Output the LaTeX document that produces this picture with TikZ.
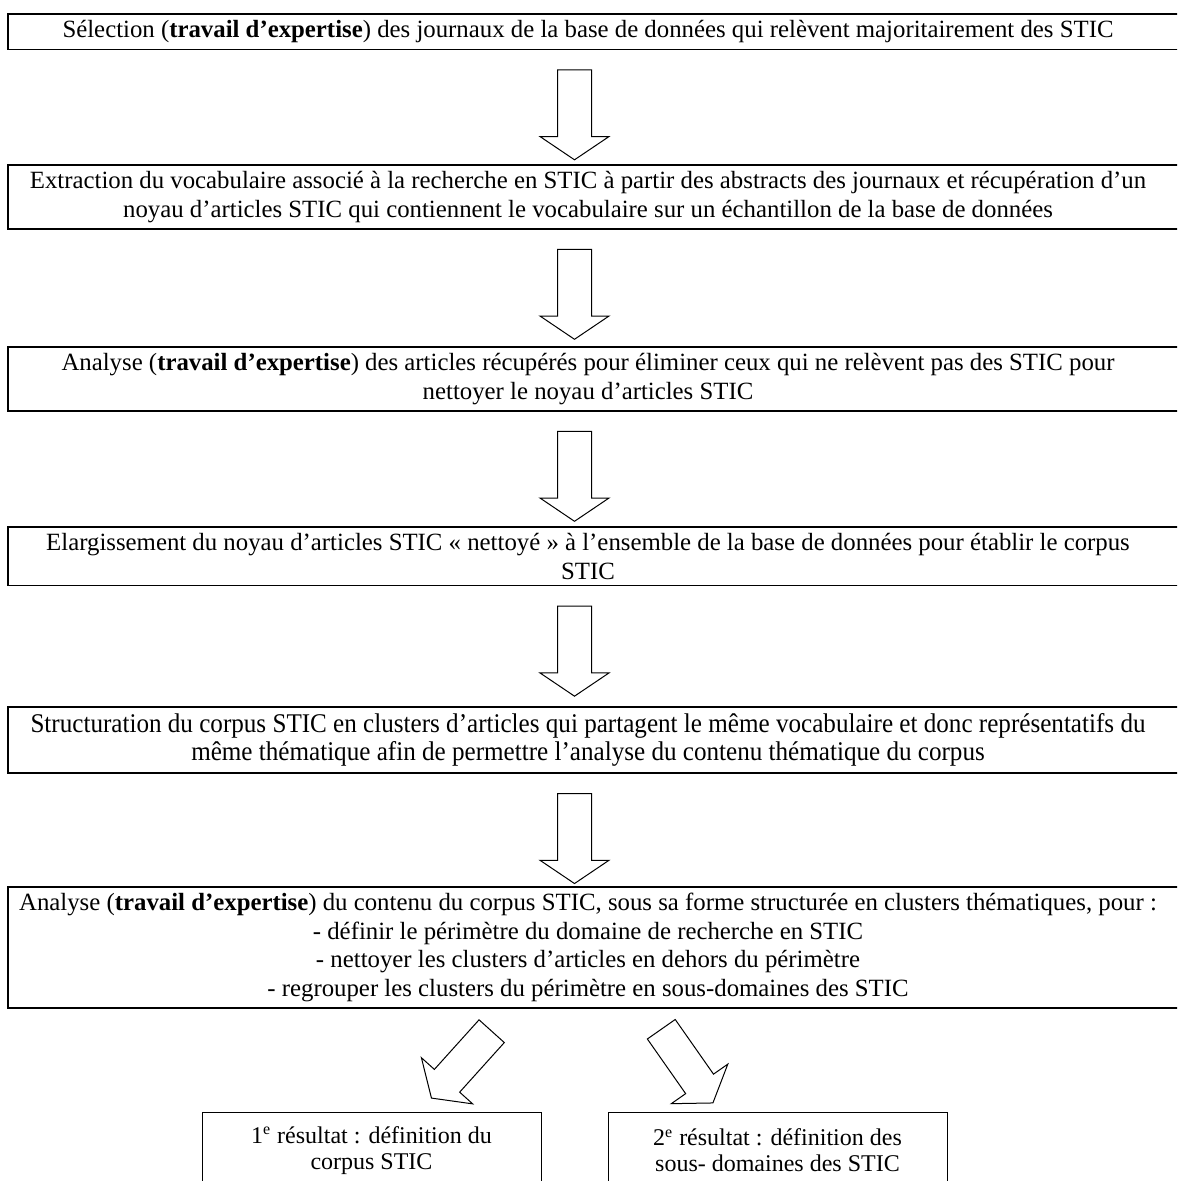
\documentclass[tikz,border=0pt]{standalone}
\usepackage{fontspec}
\setmainfont{Liberation Serif}
\usetikzlibrary{shapes.arrows,calc}

\tikzset{
  stepbox/.style={align=center, inner xsep=0pt, inner ysep=3pt, font=\fontsize{12.4}{14.2}\selectfont},
  frameline/.style={line width=0.8pt},
  blockarrow/.style={shape=single arrow, draw, line width=0.5pt, fill=white,
    minimum height=45pt, single arrow head extend=8.75pt,
    single arrow tip angle=112, inner xsep=0pt, inner ysep=8.25pt},
  resbox/.style={draw, line width=0.5pt, align=center, minimum width=169.5pt,
    minimum height=38pt, inner sep=0pt, font=\fontsize{12}{13}\selectfont}
}

\begin{document}
\begin{tikzpicture}[x=0.5pt,y=-0.5pt]
    \useasboundingbox (0,0) rectangle (1177,1181);
    \clip (0,0) rectangle (1177,1181);

    % Reference points
    \coordinate (lft) at (8,0);
    \coordinate (rgt) at (1200,0);
    \coordinate (axis) at (574.5,0);

    % Steps
    \node[stepbox, anchor=north] (sel) at (588,14) {Sélection (\textbf{travail d’expertise}) des journaux de la base de données qui relèvent majoritairement des STIC};
    \node[stepbox, anchor=north] (extr) at (588,165) {Extraction du vocabulaire associé à la recherche en STIC à partir des abstracts des journaux et récupération d’un\\noyau d’articles STIC qui contiennent le vocabulaire sur un échantillon de la base de données};
    \node[stepbox, anchor=north] (nett) at (588,347) {Analyse (\textbf{travail d’expertise}) des articles récupérés pour éliminer ceux qui ne relèvent pas des STIC pour\\nettoyer le noyau d’articles STIC};
    \node[stepbox, anchor=north] (elarg) at (588,527) {Elargissement du noyau d’articles STIC « nettoyé » à l’ensemble de la base de données pour établir le corpus\\STIC};
    \node[stepbox, anchor=north, font=\fontsize{13.5}{14.2}\addfontfeature{FakeStretch=0.93}] (struct) at (588,707) {Structuration du corpus STIC en clusters d’articles qui partagent le même vocabulaire et donc représentatifs du\\même thématique afin de permettre l’analyse du contenu thématique du corpus};
    \node[stepbox, anchor=north] (anal) at (588,887) {Analyse (\textbf{travail d’expertise}) du contenu du corpus STIC, sous sa forme structurée en clusters thématiques, pour :\\- définir le périmètre du domaine de recherche en STIC\\- nettoyer les clusters d’articles en dehors du périmètre\\- regrouper les clusters du périmètre en sous-domaines des STIC};

    % Frames (open on the right)
    \foreach \b in {sel,extr,nett,elarg,struct,anal}
        \draw[frameline] (lft |- \b.north) rectangle (rgt |- \b.south);

    % Arrows between steps
    \foreach \a in {sel,extr,nett,elarg,struct}
        \node[blockarrow, rotate=-90, anchor=tail] (\a-arrow) at ($(\a.south -| axis)+(0,20)$) {};

    % Results
    \node[resbox, anchor=north] (res1) at (371.5,1112) {1\textsuperscript{e} résultat : définition du\\corpus STIC};
    \node[resbox, anchor=north] (res2) at (777.5,1112) {2\textsuperscript{e} résultat : définition des\\sous- domaines des STIC};

    \node[blockarrow, rotate=-132, anchor=tail] (res1-arrow) at ($(anal.south -| axis)+(-82.5,23)$) {};
    \node[blockarrow, rotate=-55, anchor=tail] (res2-arrow) at ($(anal.south -| axis)+(86.5,21)$) {};
\end{tikzpicture}
\end{document}
